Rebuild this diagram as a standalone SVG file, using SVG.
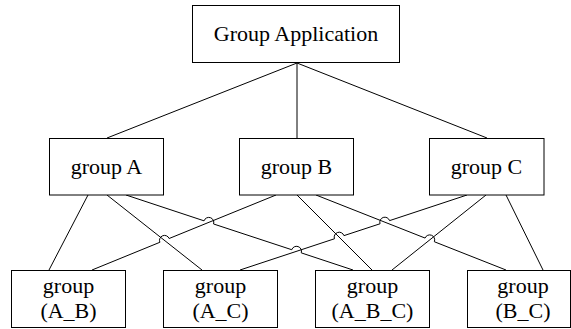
<svg xmlns="http://www.w3.org/2000/svg" width="571" height="329" viewBox="0 0 571 329">
<style>
.box{fill:#fff;stroke:#000;stroke-width:1}
.lbl{font-family:'Liberation Serif','Times New Roman',serif;font-size:22px;fill:#000;text-anchor:middle}
.con{fill:none;stroke:#000;stroke-width:1}
</style>
<rect width="571" height="329" fill="#fff"/>
<g id="connectors" class="con">
<path d="M297,63 L107,138"/>
<path d="M297,63 L297,138"/>
<path d="M297,63 L487,138"/>
<path d="M88,195 L49,270"/>
<path d="M107,195 L202,270"/>
<path d="M126,195 L204.05,220.83 A5,5 0 0 1 213.55,223.97 L291.75,249.73 A5,5 0 0 1 301.25,252.87 L353,270"/>
<path d="M92,270 L159.87,242.29 A5,5 0 0 1 169.13,238.51 L276,195"/>
<path d="M297,195 L372,270"/>
<path d="M316,195 L425.05,238.06 A5,5 0 0 1 434.35,241.74 L506,270"/>
<path d="M240,270 L334.45,238.77 A5,5 0 0 1 343.95,235.63 L380.05,223.77 A5,5 0 0 1 389.55,220.63 L467,195"/>
<path d="M486,195 L392,270"/>
<path d="M506,195 L543,270"/>
</g>
<g id="app"><rect class="box" x="192.5" y="5.5" width="207" height="57"/><text class="lbl" x="296" y="41">Group Application</text></g>
<g id="groupA"><rect class="box" x="49.5" y="138.5" width="114" height="56.5"/><text class="lbl" x="106.5" y="174">group A</text></g>
<g id="groupB"><rect class="box" x="239.5" y="138.5" width="114" height="56.5"/><text class="lbl" x="296.5" y="174">group B</text></g>
<g id="groupC"><rect class="box" x="429.5" y="138.5" width="114.5" height="56.5"/><text class="lbl" x="486.5" y="174">group C</text></g>
<g id="groupAB"><rect class="box" x="11.5" y="270.5" width="114" height="57"/><text class="lbl" x="68.5" y="293">group</text><text class="lbl" x="68.5" y="318">(A_B)</text></g>
<g id="groupAC"><rect class="box" x="163.5" y="270.5" width="114" height="57"/><text class="lbl" x="220.5" y="293">group</text><text class="lbl" x="220.5" y="318">(A_C)</text></g>
<g id="groupABC"><rect class="box" x="315.5" y="270.5" width="114" height="57"/><text class="lbl" x="372.5" y="293">group</text><text class="lbl" x="372.5" y="318">(A_B_C)</text></g>
<g id="groupBC"><rect class="box" x="467.5" y="270.5" width="103" height="57"/><text class="lbl" x="523" y="293">group</text><text class="lbl" x="523" y="318">(B_C)</text></g>
</svg>
